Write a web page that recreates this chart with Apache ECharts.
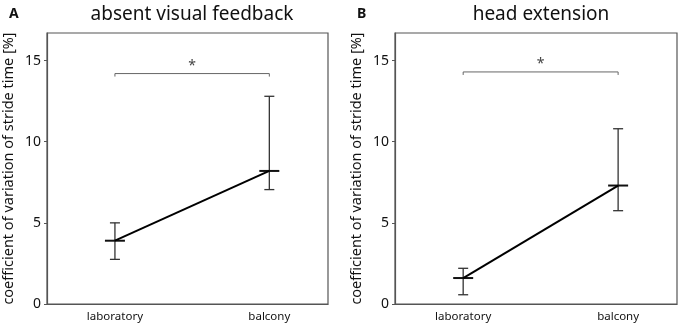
<!DOCTYPE html>
<html>
<head>
<meta charset="utf-8">
<script src="https://cdn.jsdelivr.net/npm/echarts@6/dist/echarts.min.js"></script>
<style>
html, body { margin: 0; padding: 0; background: #fff; }
#chart { width: 680px; height: 326px; }
</style>
</head>
<body>
<div id="chart"></div>
<script>
// data
var categories = ['laboratory', 'balcony'];
var positions = [1, 2];

var meanA = [3.9, 8.2];
var lowA = [2.75, 7.05];
var highA = [5.0, 12.8];
var bracketA = 14.2;

var meanB = [1.6, 7.3];
var lowB = [0.57, 5.75];
var highB = [2.2, 10.8];
var bracketB = 14.3;

var yTicks = [0, 5, 10, 15];
var yName = 'coefficient of variation of stride time [%]';
var font = 'Noto Sans';

function lineData(mean) {
    return positions.map(function (p, i) { return [p, mean[i]]; });
}
function errData(mean, low, high) {
    return positions.map(function (p, i) { return [p, low[i], high[i], mean[i]]; });
}

function renderErr(params, api) {
    var x = api.value(0);
    var lo = api.coord([x, api.value(1)]);
    var hi = api.coord([x, api.value(2)]);
    var mid = api.coord([x, api.value(3)]);
    var st = { stroke: '#333', lineWidth: 1.3 };
    return {
        type: 'group',
        children: [
            { type: 'line', shape: { x1: hi[0], y1: hi[1], x2: lo[0], y2: lo[1] }, style: st },
            { type: 'line', shape: { x1: hi[0] - 5, y1: hi[1], x2: hi[0] + 5, y2: hi[1] }, style: st },
            { type: 'line', shape: { x1: lo[0] - 5, y1: lo[1], x2: lo[0] + 5, y2: lo[1] }, style: st },
            { type: 'line', shape: { x1: mid[0] - 10, y1: mid[1], x2: mid[0] + 10, y2: mid[1] },
              style: { stroke: '#111', lineWidth: 2 } }
        ]
    };
}

function renderBracket(params, api) {
    var a = api.coord([api.value(0), api.value(2)]);
    var b = api.coord([api.value(1), api.value(2)]);
    var st = { stroke: '#666', lineWidth: 1, fill: 'none' };
    return {
        type: 'group',
        children: [
            { type: 'polyline', shape: { points: [[a[0], a[1] + 3], [a[0], a[1]], [b[0], b[1]], [b[0], b[1] + 3]] }, style: st },
            { type: 'text', x: (a[0] + b[0]) / 2, y: a[1] - 8,
              style: { text: '*', font: '14px ' + font, fill: '#444', align: 'center', verticalAlign: 'middle' } }
        ]
    };
}

function xAxis(idx) {
    return {
        type: 'value', gridIndex: idx, min: 0.56, max: 2.38,
        axisLine: { show: true, lineStyle: { color: '#555', width: 1.2 } },
        axisTick: { show: false },
        splitLine: { show: false },
        axisLabel: {
            customValues: positions,
            formatter: function (v) { return categories[positions.indexOf(v)] || ''; },
            fontFamily: font, fontSize: 11.5, color: '#111', margin: 7
        }
    };
}
function yAxis(idx) {
    return {
        type: 'value', gridIndex: idx, min: 0, max: 16.7,
        name: yName, nameLocation: 'middle', nameGap: 31,
        nameTextStyle: { fontFamily: font, fontSize: 14.5, color: '#111' },
        axisLine: { show: true, lineStyle: { color: '#555', width: 1.2 } },
        axisTick: { show: true, customValues: yTicks, length: 3, lineStyle: { color: '#555' } },
        splitLine: { show: false },
        axisLabel: { customValues: yTicks, fontFamily: font, fontSize: 14, color: '#111', margin: 6 }
    };
}

var chart = echarts.init(document.getElementById('chart'));
var option = {
    animation: false,
    title: [
        { text: 'absent visual feedback', left: 187, top: 0, textAlign: 'center',
          textStyle: { fontFamily: font, fontSize: 19, fontWeight: 'normal', color: '#111' } },
        { text: 'head extension', left: 536, top: 0, textAlign: 'center',
          textStyle: { fontFamily: font, fontSize: 19, fontWeight: 'normal', color: '#111' } },
        { text: 'A', left: 4, top: 2, textStyle: { fontFamily: font, fontSize: 14, fontWeight: 'bold', color: '#111' } },
        { text: 'B', left: 352, top: 2, textStyle: { fontFamily: font, fontSize: 14, fontWeight: 'bold', color: '#111' } }
    ],
    grid: [
        { left: 47, top: 33, width: 281, bottom: 22, show: true, borderColor: '#555', borderWidth: 1.2 },
        { left: 395, top: 33, width: 282, bottom: 22, show: true, borderColor: '#555', borderWidth: 1.2 }
    ],
    xAxis: [xAxis(0), xAxis(1)],
    yAxis: [yAxis(0), yAxis(1)],
    series: [
        { type: 'line', xAxisIndex: 0, yAxisIndex: 0, data: lineData(meanA), symbol: 'none',
          lineStyle: { color: '#000', width: 2 } },
        { type: 'custom', xAxisIndex: 0, yAxisIndex: 0, data: errData(meanA, lowA, highA), renderItem: renderErr },
        { type: 'custom', xAxisIndex: 0, yAxisIndex: 0, data: [[1, 2, bracketA]], renderItem: renderBracket },
        { type: 'line', xAxisIndex: 1, yAxisIndex: 1, data: lineData(meanB), symbol: 'none',
          lineStyle: { color: '#000', width: 2 } },
        { type: 'custom', xAxisIndex: 1, yAxisIndex: 1, data: errData(meanB, lowB, highB), renderItem: renderErr },
        { type: 'custom', xAxisIndex: 1, yAxisIndex: 1, data: [[1, 2, bracketB]], renderItem: renderBracket }
    ]
};
chart.setOption(option);
window.onresize = function () { chart.resize(); };
</script>
</body>
</html>
